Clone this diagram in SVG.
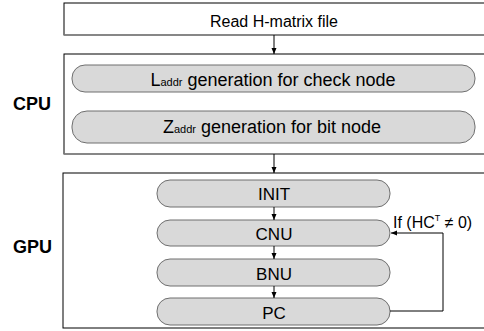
<svg xmlns="http://www.w3.org/2000/svg" width="484" height="331" viewBox="0 0 484 331">
<style>
.box{fill:#fff;stroke:#000;stroke-width:1}
.shadow{stroke:#8a8a8a;stroke-width:1.5}
.pill{fill:#d9d9d9;stroke:#6f6f6f;stroke-width:1}
.t{font-family:"Liberation Sans",Arial,sans-serif;fill:#000;text-anchor:middle}
.lbl{font-family:"Liberation Sans",Arial,sans-serif;font-weight:bold;font-size:18px;fill:#000}
.c{fill:none;stroke:#000;stroke-width:1}
</style>
<defs>
<marker id="ah" viewBox="0 0 6 6" refX="6" refY="3" markerWidth="6" markerHeight="6" markerUnits="userSpaceOnUse" orient="auto">
<path d="M0,0.5 L6,3 L0,5.5 Z" fill="#000"/>
</marker>
</defs>
<rect width="484" height="331" fill="#fff"/>
<g id="read">
<rect class="box" x="64" y="3" width="430" height="32"/>
<line class="shadow" x1="64" y1="35" x2="484" y2="35"/>
<text class="t" x="274" y="27" font-size="16">Read H-matrix file</text>
</g>
<g id="cpu">
<rect class="box" x="64" y="54" width="430" height="100"/>
<line class="shadow" x1="64" y1="154" x2="484" y2="154"/>
<text class="lbl" x="13" y="110">CPU</text>
</g>
<g id="laddr">
<rect class="pill" x="72" y="65" width="403" height="27" rx="13" ry="13"/>
<text class="t" x="273" y="86" font-size="18">L<tspan font-size="11">addr</tspan> generation for check node</text>
</g>
<g id="zaddr">
<rect class="pill" x="72" y="111" width="403" height="32" rx="15" ry="15"/>
<text class="t" x="272" y="133" font-size="18">Z<tspan font-size="11">addr</tspan> generation for bit node</text>
</g>
<g id="gpu">
<rect class="box" x="63" y="173" width="431" height="155"/>
<text class="lbl" x="13" y="253">GPU</text>
</g>
<g id="init">
<rect class="pill" x="157" y="180" width="233" height="27" rx="13" ry="13"/>
<text class="t" x="274" y="200" font-size="17">INIT</text>
</g>
<g id="cnu">
<rect class="pill" x="157" y="220" width="233" height="26" rx="13" ry="13"/>
<text class="t" x="274" y="240" font-size="17">CNU</text>
</g>
<g id="bnu">
<rect class="pill" x="157" y="259" width="233" height="27" rx="13" ry="13"/>
<text class="t" x="274" y="280" font-size="17">BNU</text>
</g>
<g id="pc">
<rect class="pill" x="157" y="298" width="233" height="27" rx="13" ry="13"/>
<text class="t" x="274" y="319" font-size="17">PC</text>
</g>
<g id="connectors">
<line class="c" x1="274" y1="35" x2="274" y2="54" marker-end="url(#ah)"/>
<line class="c" x1="274" y1="154" x2="274" y2="173" marker-end="url(#ah)"/>
<line class="c" x1="274" y1="207" x2="274" y2="220" marker-end="url(#ah)"/>
<line class="c" x1="274" y1="246" x2="274" y2="259" marker-end="url(#ah)"/>
<line class="c" x1="274" y1="286" x2="274" y2="298" marker-end="url(#ah)"/>
<path class="c" d="M390,311 H443 V233 H391" marker-end="url(#ah)"/>
<text font-family="Liberation Sans,Arial,sans-serif" font-size="16" x="393" y="228">If (HC<tspan font-size="9" dy="-7">T</tspan><tspan dy="7"> ≠ 0)</tspan></text>
</g>
</svg>
